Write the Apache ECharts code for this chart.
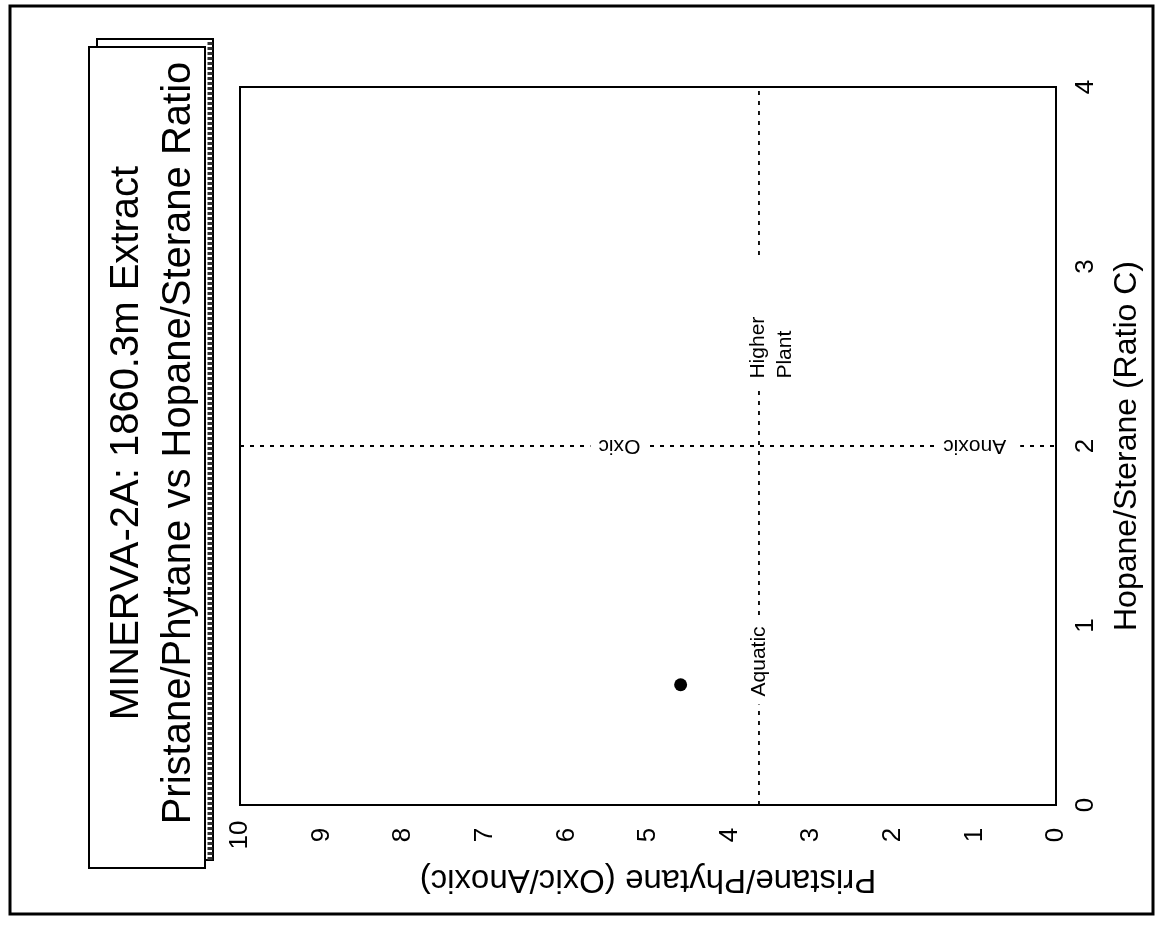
<!DOCTYPE html>
<html>
<head>
<meta charset="utf-8">
<script src="https://cdn.jsdelivr.net/npm/echarts@6/dist/echarts.min.js"></script>
<style>
html,body{margin:0;padding:0;background:#fff;}
#chart{width:1159px;height:925px;}
</style>
</head>
<body>
<div id="chart"></div>
<script>
// ---- data ----
const titleLines = ['MINERVA-2A: 1860.3m Extract', 'Pristane/Phytane vs Hopane/Sterane Ratio'];
const xAxisTitle = 'Pristane/Phytane (Oxic/Anoxic)';
const yAxisTitle = 'Hopane/Sterane (Ratio C)';
const pristaneRange = [0, 10];
const hopaneRange = [0, 4];
const samplePristane = [4.6];
const sampleHopane = [0.67];
const oxicAnoxicHopane = 2;        // dotted boundary
const aquaticPlantPristane = 3.64; // dotted boundary
const annotationTexts = ['Oxic', 'Anoxic', 'Aquatic', 'Higher\nPlant'];
const annotationPristane = [5.35, 0.96, 3.64, 3.64];
const annotationHopane = [2, 2, 0.8, 2.32];

const FONT = '"Liberation Sans", Arial, Helvetica, sans-serif';
const chart = echarts.init(document.getElementById('chart'));

const annotationStyles = [
  {rotate: 180, padding: [3, 8]},
  {rotate: 180, padding: [3, 8, 3, 14]},
  {rotate: 90, padding: [3, 8]},
  {rotate: 90, align: 'left', verticalAlign: 'middle', padding: [3, 60, 3, 10], offset: [0, 13], lineHeight: 27}
];

const option = {
  animation: false,
  backgroundColor: '#fff',
  textStyle: {fontFamily: FONT, color: '#000'},
  grid: {left: 240, right: 103, top: 87, bottom: 120, show: true, borderColor: '#000', borderWidth: 2},
  xAxis: {
    type: 'value', min: pristaneRange[0], max: pristaneRange[1], interval: 1, inverse: true,
    position: 'bottom',
    name: xAxisTitle, nameLocation: 'middle', nameGap: 74, nameRotate: 180,
    nameTextStyle: {fontSize: 33, fontFamily: FONT, color: '#000', align: 'center', verticalAlign: 'middle'},
    axisLine: {show: true, lineStyle: {color: '#000', width: 2}},
    axisTick: {show: false}, splitLine: {show: false},
    axisLabel: {rotate: 90, margin: 30, fontSize: 26, fontFamily: FONT, color: '#000', align: 'center', verticalAlign: 'middle'}
  },
  yAxis: {
    type: 'value', min: hopaneRange[0], max: hopaneRange[1], interval: 1,
    position: 'right',
    name: yAxisTitle, nameLocation: 'middle', nameGap: 71, nameRotate: 90,
    nameTextStyle: {fontSize: 32, fontFamily: FONT, color: '#000', align: 'center', verticalAlign: 'middle'},
    axisLine: {show: true, lineStyle: {color: '#000', width: 2}},
    axisTick: {show: false}, splitLine: {show: false},
    axisLabel: {rotate: 90, margin: 30, fontSize: 26, fontFamily: FONT, color: '#000', align: 'center', verticalAlign: 'middle'}
  },
  series: [
    {
      type: 'line', name: 'Oxic/Anoxic boundary', symbol: 'none', z: 1,
      data: [[pristaneRange[1], oxicAnoxicHopane], [pristaneRange[0], oxicAnoxicHopane]],
      lineStyle: {color: '#000', width: 1.8, type: [4, 6], opacity: 1}
    },
    {
      type: 'line', name: 'Aquatic/Higher Plant boundary', symbol: 'none', z: 1,
      data: [[aquaticPlantPristane, hopaneRange[0]], [aquaticPlantPristane, hopaneRange[1]]],
      lineStyle: {color: '#000', width: 1.8, type: [4, 6], opacity: 1}
    },
    {
      type: 'scatter', name: 'annotations', symbolSize: 0, z: 3, silent: true,
      itemStyle: {color: '#000', opacity: 1},
      data: annotationTexts.map((t, i) => ({
        value: [annotationPristane[i], annotationHopane[i]],
        label: Object.assign({
          show: true, position: 'inside', formatter: t, fontSize: 21, fontFamily: FONT,
          color: '#000', textBorderWidth: 0, backgroundColor: '#fff', opacity: 1
        }, annotationStyles[i])
      }))
    },
    {
      type: 'scatter', name: 'MINERVA-2A 1860.3m', symbol: 'circle', symbolSize: 13, z: 4,
      itemStyle: {color: '#000', opacity: 1},
      data: samplePristane.map((p, i) => [p, sampleHopane[i]])
    }
  ],
  graphic: [
    {type: 'rect', shape: {x: 10, y: 6, width: 1143, height: 908}, style: {fill: 'none', stroke: '#000', lineWidth: 3}, z: 0},
    {type: 'rect', shape: {x: 97, y: 39, width: 116, height: 821}, style: {fill: '#fff', stroke: '#000', lineWidth: 2}, z: 10},
    {type: 'line', shape: {x1: 210, y1: 42, x2: 210, y2: 860}, style: {stroke: '#333', lineWidth: 5, lineDash: [3, 2]}, z: 10},
    {type: 'rect', shape: {x: 89, y: 47, width: 116, height: 821}, style: {fill: '#fff', stroke: '#000', lineWidth: 2}, z: 11},
    {type: 'text', x: 153, y: 443, rotation: Math.PI / 2, z: 12,
     style: {text: titleLines.join('\n'), fontSize: 40, lineHeight: 52, fontFamily: FONT, fill: '#000', align: 'center', verticalAlign: 'middle'}}
  ]
};
chart.setOption(option);
</script>
</body>
</html>
